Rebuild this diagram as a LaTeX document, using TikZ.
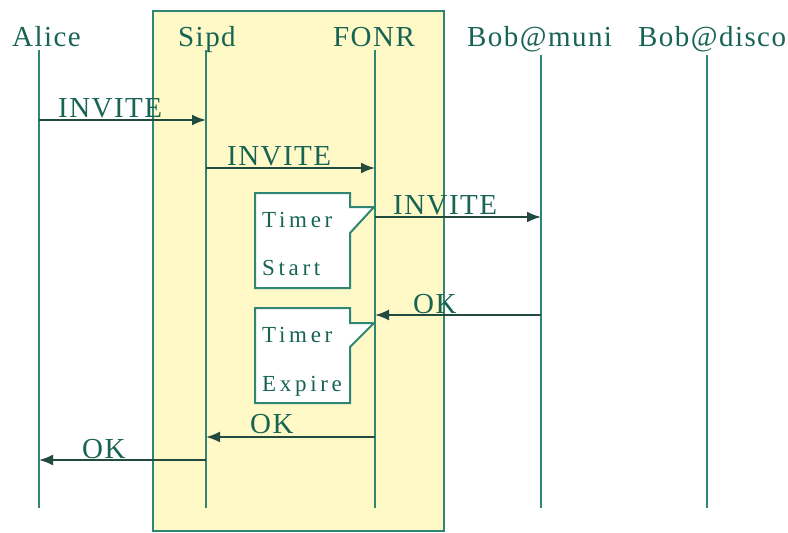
\documentclass[tikz,border=0pt]{standalone}
\usepackage{fontspec}
\setmainfont{Liberation Serif}
\newfontfamily\hdfont[LetterSpace=5]{Liberation Serif}
\newfontfamily\tmfont[LetterSpace=16]{Liberation Serif}
\usetikzlibrary{arrows.meta}
\definecolor{lifec}{RGB}{48,134,116}
\definecolor{txtc}{RGB}{24,100,84}
\definecolor{arrc}{RGB}{34,74,62}
\definecolor{ybg}{RGB}{255,249,200}
\begin{document}
\begin{tikzpicture}[x=1pt,y=-1pt,
  life/.style={draw=lifec, line width=2pt},
  head/.style={text=txtc, font=\hdfont\fontsize{29}{31}\selectfont, inner sep=0pt, anchor=base west},
  msg/.style={draw=arrc, line width=2pt, -{Latex[length=14pt,width=11pt]}},
  lbl/.style={text=txtc, font=\hdfont\fontsize{29}{31}\selectfont, inner sep=0pt, anchor=base west},
  tbox/.style={draw=lifec, fill=white, line width=2pt, line join=miter},
  ttxt/.style={text=txtc, font=\tmfont\fontsize{23}{25}\selectfont, inner sep=0pt, anchor=base west}
]
\useasboundingbox (0,0) rectangle (788,533);
% server box
\draw[draw=lifec, fill=ybg, line width=2pt] (153,11) rectangle (444,531);

% heads
\node[head] (alice) at (12,46) {Alice};
\node[head] (sipd) at (178,46) {Sipd};
\node[head] (fonr) at (333,46) {FONR};
\node[head] (muni) at (467,46) {Bob@muni};
\node[head] (disco) at (638,46) {Bob@disco};

% lifeline coordinates
\coordinate (aT) at (39,50);  \coordinate (aB) at (39,508);
\coordinate (sT) at (206,50); \coordinate (sB) at (206,508);
\coordinate (fT) at (375,50); \coordinate (fB) at (375,508);
\coordinate (mT) at (541,55); \coordinate (mB) at (541,508);
\coordinate (dT) at (707,55); \coordinate (dB) at (707,508);
\draw[life] (aT) -- (aB);
\draw[life] (sT) -- (sB);
\draw[life] (fT) -- (fB);
\draw[life] (mT) -- (mB);
\draw[life] (dT) -- (dB);

% timer boxes
\draw[tbox] (255,193) -- (350,193) -- (350,207) -- (374,207) -- (350,233) -- (350,288) -- (255,288) -- cycle;
\draw[tbox] (255,308) -- (350,308) -- (350,323) -- (374,323) -- (350,347) -- (350,403) -- (255,403) -- cycle;
\node[ttxt] (t1) at (262,227) {Timer};
\node[ttxt] (t1b) at (262,275) {Start};
\node[ttxt] (t2) at (262,342) {Timer};
\node[ttxt] (t2b) at (262,391) {Expire};

% message coordinates
\coordinate (m1a) at (39,120);  \coordinate (m1b) at (206,120);
\coordinate (m2a) at (206,168); \coordinate (m2b) at (375,168);
\coordinate (m3a) at (375,217); \coordinate (m3b) at (541,217);
\coordinate (m4a) at (541,315); \coordinate (m4b) at (375,315);
\coordinate (m5a) at (375,437); \coordinate (m5b) at (206,437);
\coordinate (m6a) at (206,460); \coordinate (m6b) at (39,460);
\draw[msg] (m1a) -- (m1b);
\draw[msg] (m2a) -- (m2b);
\draw[msg] (m3a) -- (m3b);
\draw[msg] (m4a) -- (m4b);
\draw[msg] (m5a) -- (m5b);
\draw[msg] (m6a) -- (m6b);

% labels
\node[lbl] (l1) at (58,117) {INVITE};
\node[lbl] (l2) at (227,165) {INVITE};
\node[lbl] (l3) at (393,214) {INVITE};
\node[lbl] (l4) at (413,313) {OK};
\node[lbl] (l5) at (250,433) {OK};
\node[lbl] (l6) at (82,458) {OK};
\end{tikzpicture}
\end{document}
